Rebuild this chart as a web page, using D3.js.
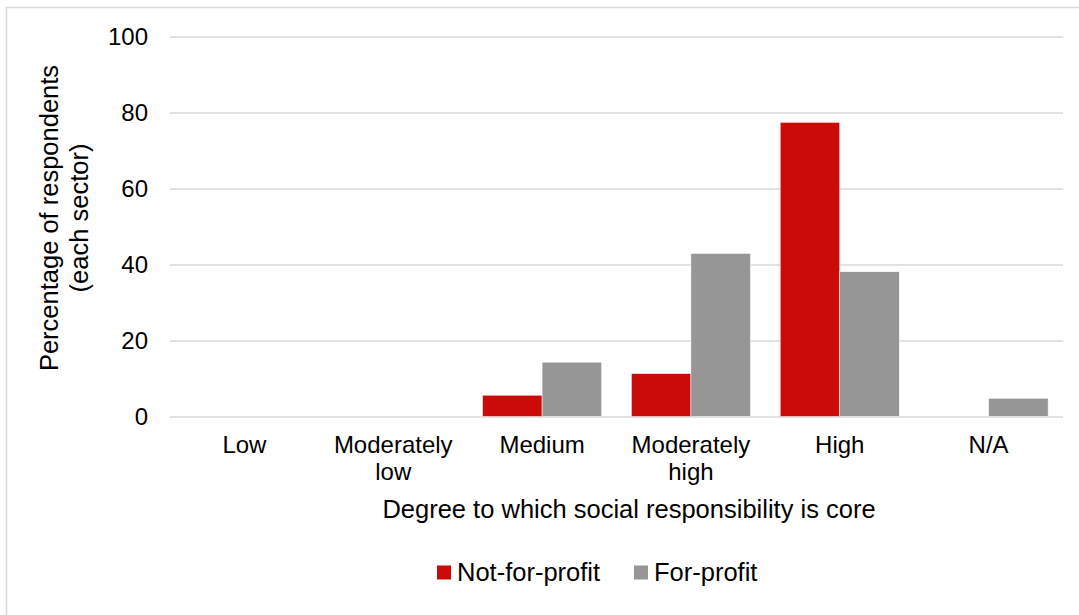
<!DOCTYPE html>
<html>
<head>
<meta charset="utf-8">
<script src="https://d3js.org/d3.v7.min.js"></script>
<style>
  html, body { margin: 0; padding: 0; background: #fff; }
  svg text { font-family: 'Liberation Sans', Arial, sans-serif; fill: #000; }
</style>
</head>
<body>
<script>
var categories = ['Low', 'Moderately low', 'Medium', 'Moderately high', 'High', 'N/A'];
var notForProfit = [0, 0, 5.6, 11.3, 77.4, 0];
var forProfit = [0, 0, 14.3, 42.9, 38.1, 4.8];
var seriesNames = ['Not-for-profit', 'For-profit'];
var yTicks = [0, 20, 40, 60, 80, 100];

var w = 1079,
    h = 615;

var plotL = 170,
    plotR = 1063,
    plotT = 36.5,
    plotB = 416.5;

var colors = ['#CB0A0A', '#969696'];

var svg = d3.select('body').append('svg')
  .attr('width', w)
  .attr('height', h);

// outer chart border (runs off the right and bottom)
svg.append('rect')
  .attr('x', 6.5)
  .attr('y', 7.5)
  .attr('width', w)
  .attr('height', h)
  .attr('fill', 'none')
  .attr('stroke', '#D9D9D9')
  .attr('stroke-width', 1.5);

var x0 = d3.scaleBand()
  .domain(categories)
  .range([plotL, plotR])
  .paddingInner(0.2)
  .paddingOuter(0.1);

var x1 = d3.scaleBand()
  .domain(seriesNames)
  .range([0, x0.bandwidth()]);

var y = d3.scaleLinear()
  .domain([0, 100])
  .range([plotB, plotT]);

// gridlines + y labels
var yAxis = svg.append('g')
  .attr('transform', 'translate(' + plotL + ',0)')
  .call(d3.axisLeft(y)
    .tickValues(yTicks)
    .tickSize(-(plotR - plotL))
    .tickPadding(22));

yAxis.select('.domain').remove();
yAxis.selectAll('line')
  .attr('stroke', '#D9D9D9')
  .attr('stroke-width', 1.5);
yAxis.selectAll('text')
  .style('font-size', '24px')
  .attr('fill', '#000');

var rows = categories.map(function(c, i) {
  return { cat: c, vals: [notForProfit[i], forProfit[i]] };
});

var groups = svg.append('g').selectAll('.grp')
  .data(rows)
  .enter()
  .append('g')
    .attr('transform', function(d) { return 'translate(' + x0(d.cat) + ',0)'; });

groups.selectAll('rect')
  .data(function(d) {
    return d.vals.map(function(v, j) { return { key: seriesNames[j], v: v, j: j }; });
  })
  .enter()
  .filter(function(d) { return d.v > 0; })
  .append('rect')
    .attr('x', function(d) { return x1(d.key); })
    .attr('y', function(d) { return y(d.v); })
    .attr('width', x1.bandwidth())
    .attr('height', function(d) { return y(0) - y(d.v); })
    .attr('fill', function(d) { return colors[d.j]; })
    .attr('stroke', '#fff')
    .attr('stroke-width', 0.5);

// category labels
svg.append('g').selectAll('.cat')
  .data(categories)
  .enter()
  .append('text')
    .attr('text-anchor', 'middle')
    .style('font-size', '24px')
    .attr('x', function(d) { return x0(d) + x0.bandwidth() / 2; })
    .attr('y', 453)
    .each(function(d) {
      var t = d3.select(this);
      var parts = d.split(' ');
      parts.forEach(function(p, i) {
        t.append('tspan')
          .attr('x', x0(d) + x0.bandwidth() / 2)
          .attr('dy', i === 0 ? 0 : 26.5)
          .text(p);
      });
    });

// axis titles
svg.append('text')
  .attr('x', 629)
  .attr('y', 518)
  .attr('text-anchor', 'middle')
  .style('font-size', '25.5px')
  .text('Degree to which social responsibility is core');

var yTitle = svg.append('text')
  .attr('transform', 'translate(0,218) rotate(-90)')
  .attr('text-anchor', 'middle')
  .style('font-size', '25.5px');
yTitle.append('tspan').attr('x', 0).attr('y', 58).text('Percentage of respondents');
yTitle.append('tspan').attr('x', 0).attr('y', 88).text('(each sector)');

// legend
var legend = svg.append('g')
  .selectAll('.leg')
  .data(seriesNames)
  .enter()
  .append('g')
    .attr('transform', function(d, i) { return 'translate(' + [437, 634][i] + ',565.5)'; });

legend.append('rect')
  .attr('width', 14)
  .attr('height', 14)
  .attr('fill', function(d, i) { return colors[i]; });

legend.append('text')
  .attr('x', 20)
  .attr('y', 15.5)
  .style('font-size', '25.5px')
  .text(function(d) { return d; });
</script>
</body>
</html>
